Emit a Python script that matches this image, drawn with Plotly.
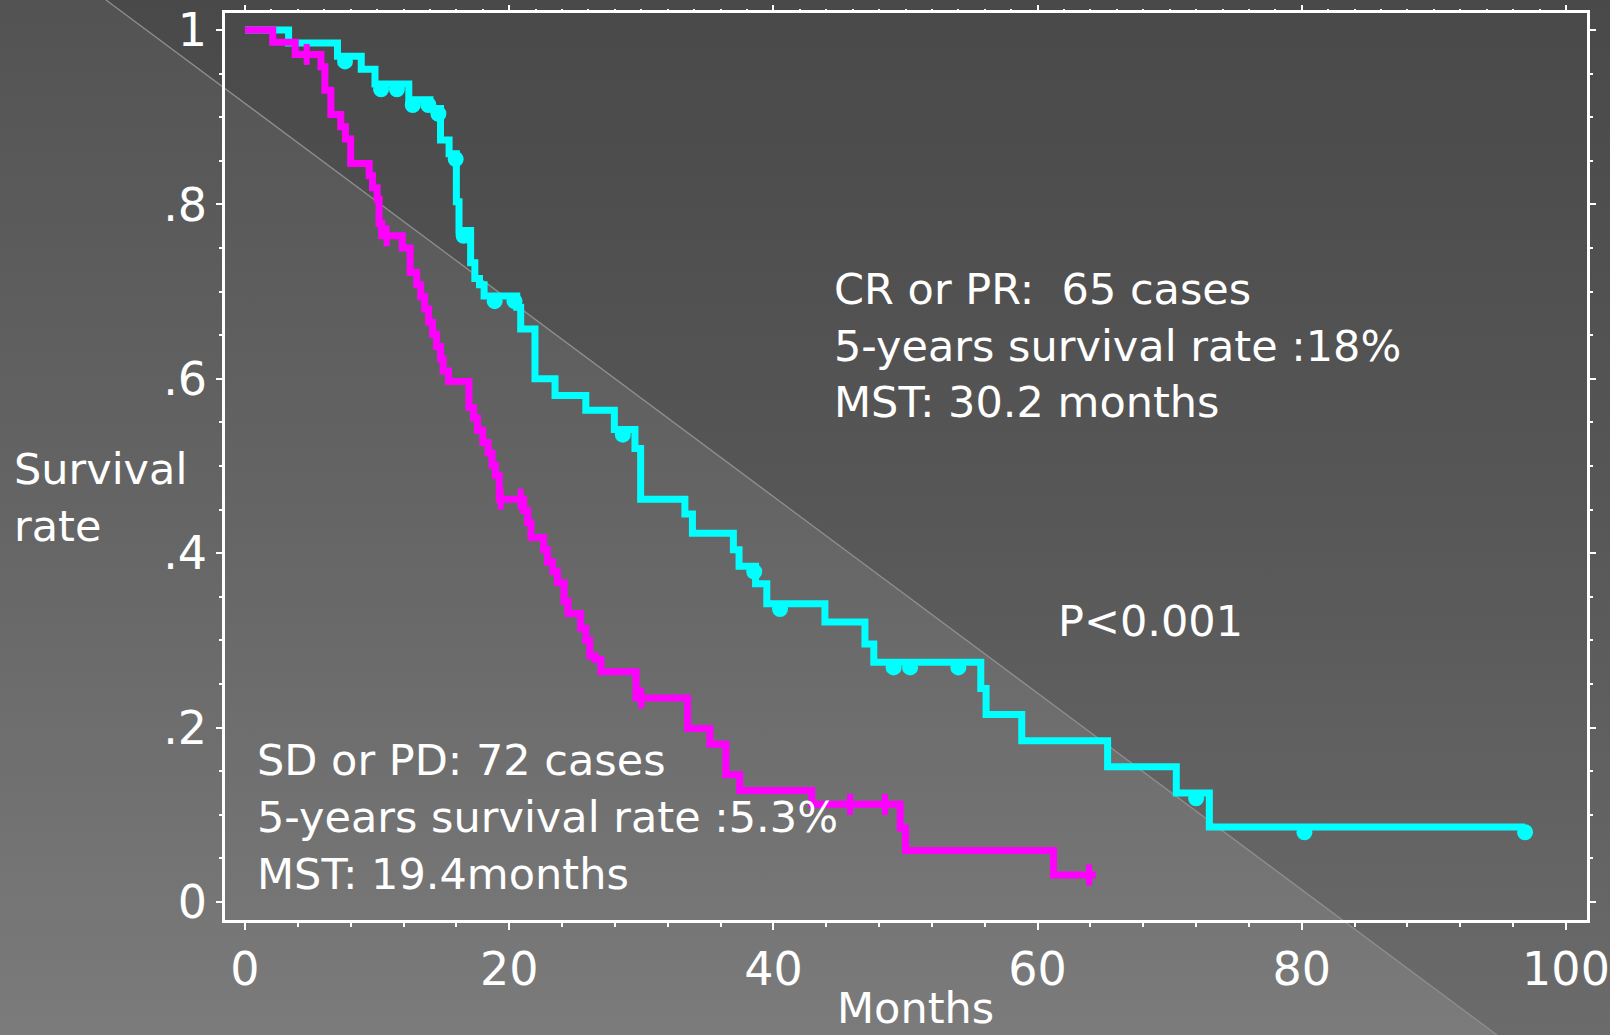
import base64
import numpy as np
import plotly.graph_objects as go

# ---------------- data ----------------
# CR or PR group (cyan): step times (months) and survival after each step
cr_time = [0, 3.3, 7.0, 8.8, 9.84, 12.4, 14.0, 14.8, 15.45, 16.0,
           16.2, 17.08, 17.4, 17.75, 18.1, 20.57, 20.87, 21.95, 23.47, 25.8,
           27.96, 29.52, 29.95, 33.3, 33.87, 36.97, 37.4, 38.65, 39.5, 43.9,
           46.93, 47.6, 55.7, 56.1, 58.8, 65.3, 70.5, 73.0, 96.9]
cr_surv = [1.0, 0.985, 0.970, 0.955, 0.938, 0.920, 0.910, 0.874, 0.858, 0.803,
           0.770, 0.733, 0.715, 0.708, 0.695, 0.682, 0.657, 0.600, 0.581, 0.564,
           0.542, 0.520, 0.462, 0.445, 0.423, 0.404, 0.385, 0.365, 0.342, 0.321,
           0.296, 0.275, 0.245, 0.215, 0.185, 0.155, 0.125, 0.086, 0.086]
cr_censored = [7.57, 10.3, 11.5, 12.7, 13.88, 14.64, 15.95, 16.55, 18.9, 20.4,
               28.6, 38.55, 40.5, 49.1, 50.35, 54.0, 72.0, 80.2, 96.9]

# SD or PD group (magenta)
sd_time = [0, 2.1, 3.8, 5.75, 6.05, 6.5, 7.25, 7.6, 8.0, 9.4,
           9.65, 10.0, 10.15, 10.35, 11.9, 12.5, 13.0, 13.3, 13.6, 13.9,
           14.2, 14.5, 14.8, 15.0, 15.4, 16.95, 17.3, 17.6, 18.0, 18.4,
           18.7, 18.95, 19.25, 21.1, 21.4, 21.65, 22.6, 22.9, 23.3, 23.65,
           24.15, 24.45, 25.4, 25.8, 26.1, 26.5, 26.95, 29.6, 33.5, 35.2,
           36.4, 37.45, 42.9, 49.6, 50.0, 61.2, 64.4]
sd_surv = [1.0, 0.986, 0.972, 0.958, 0.931, 0.903, 0.889, 0.875, 0.847, 0.833,
           0.819, 0.806, 0.778, 0.764, 0.750, 0.722, 0.708, 0.694, 0.680, 0.665,
           0.651, 0.637, 0.623, 0.609, 0.597, 0.567, 0.555, 0.541, 0.527, 0.515,
           0.501, 0.489, 0.462, 0.449, 0.435, 0.418, 0.404, 0.390, 0.379, 0.366,
           0.345, 0.331, 0.314, 0.300, 0.282, 0.278, 0.264, 0.234, 0.199, 0.181,
           0.146, 0.128, 0.112, 0.085, 0.059, 0.031, 0.031]
sd_censored = [4.67, 10.72, 19.36, 20.87, 30.0, 45.8, 48.45, 63.9]

x_tick_vals = [0, 20, 40, 60, 80, 100]
x_tick_text = ["0", "20", "40", "60", "80", "100"]
y_tick_vals = [0, 0.2, 0.4, 0.6, 0.8, 1.0]
y_tick_text = ["0", ".2", ".4", ".6", ".8", "1"]

cr_text = ["CR or PR:\u00a0 65 cases", "5-years survival rate :18%", "MST: 30.2 months"]
sd_text = ["SD or PD: 72 cases", "5-years survival rate :5.3%", "MST: 19.4months"]
p_text = "P&lt;0.001"
x_title = "Months"
y_title = ["Survival", "rate"]

# ---------------- layout geometry ----------------
W, H = 1610, 1035
L, R, T, B = 225, 23, 13, 115
PW, PH = W - L - R, H - T - B
X_RANGE = [-1.514, 101.59]
Y_RANGE = [-0.0206, 1.0195]
FONT = "DejaVu Sans"
FS = 43        # annotation text
FS_TICK = 46   # tick labels
CYAN = "#00FFFF"
MAGENTA = "#FF00FF"


def fx(px):
    return (px - L) / PW


def fy(py):
    return (H - B - py) / PH


def level_at(times, surv, t):
    idx = np.searchsorted(np.asarray(times), np.asarray(t), side="right") - 1
    return np.asarray(surv)[idx]


# background: two-tone vertical gradient split by a diagonal line
svg = f"""<svg xmlns="http://www.w3.org/2000/svg" width="{W}" height="{H}" viewBox="0 0 {W} {H}" preserveAspectRatio="none">
<defs>
<linearGradient id="a" x1="0" y1="0" x2="0" y2="1">
<stop offset="0" stop-color="#535353"/><stop offset="0.5" stop-color="#656565"/><stop offset="1" stop-color="#7b7b7b"/>
</linearGradient>
<linearGradient id="b" x1="0" y1="0" x2="0" y2="1">
<stop offset="0" stop-color="#494949"/><stop offset="0.5" stop-color="#575757"/><stop offset="1" stop-color="#6b6b6b"/>
</linearGradient>
</defs>
<rect x="0" y="0" width="{W}" height="{H}" fill="url(#a)"/>
<polygon points="106,0 {W},0 {W},{H} 1497,{H}" fill="url(#b)"/>
<line x1="106" y1="0" x2="1497" y2="{H}" stroke="#8e8e8e" stroke-width="1.3"/>
</svg>"""
bg_src = "data:image/svg+xml;base64," + base64.b64encode(svg.encode()).decode()

fig = go.Figure()

fig.add_trace(go.Scatter(x=cr_time, y=cr_surv, mode="lines",
                         line=dict(color=CYAN, width=7, shape="hv"),
                         hoverinfo="skip", showlegend=False))
cr_cy = level_at(cr_time, cr_surv, cr_censored) - 0.006
fig.add_trace(go.Scatter(x=cr_censored, y=cr_cy, mode="markers",
                         marker=dict(symbol="circle", size=16, color=CYAN, line=dict(width=0)),
                         hoverinfo="skip", showlegend=False))

fig.add_trace(go.Scatter(x=sd_time, y=sd_surv, mode="lines",
                         line=dict(color=MAGENTA, width=7, shape="hv"),
                         hoverinfo="skip", showlegend=False))
sd_cy = level_at(sd_time, sd_surv, sd_censored)
fig.add_trace(go.Scatter(x=sd_censored, y=sd_cy, mode="markers",
                         marker=dict(symbol="line-ns", size=15, color=MAGENTA,
                                     line=dict(width=6, color=MAGENTA)),
                         hoverinfo="skip", showlegend=False))

# invisible trace so the top (mirror) axis is drawn
fig.add_trace(go.Scatter(x=[None], y=[None], xaxis="x2", yaxis="y",
                         mode="lines", hoverinfo="skip", showlegend=False))

tickfont = dict(family=FONT, size=FS_TICK, color="white")

fig.update_layout(
    width=W, height=H,
    margin=dict(l=L, r=R, t=T, b=B, pad=0, autoexpand=False),
    paper_bgcolor="#5e5e5e",
    plot_bgcolor="rgba(0,0,0,0)",
    showlegend=False,
    images=[dict(source=bg_src, xref="paper", yref="paper",
                 x=fx(0), y=fy(0), sizex=W / PW, sizey=H / PH,
                 xanchor="left", yanchor="top", sizing="stretch", layer="below")],
    xaxis=dict(range=X_RANGE, tickmode="array", tickvals=x_tick_vals, ticktext=x_tick_text,
               ticks="outside", ticklen=7, tickwidth=2, tickcolor="white",
               minor=dict(tickmode="linear", tick0=0, dtick=4, ticks="outside",
                          ticklen=4, tickwidth=2, tickcolor="white"),
               showline=True, linecolor="white", linewidth=2.5, mirror=True,
               showgrid=False, zeroline=False, tickfont=tickfont,
               ticklabelstandoff=0, automargin=False, ticklabeloverflow="allow"),
    xaxis2=dict(range=X_RANGE, overlaying="x", side="top", anchor="y",
                tickmode="array", tickvals=x_tick_vals, showticklabels=False,
                ticks="outside", ticklen=7, tickwidth=2, tickcolor="white",
                minor=dict(tickmode="linear", tick0=0, dtick=2, ticks="outside",
                           ticklen=3, tickwidth=2, tickcolor="white"),
                showline=False, showgrid=False, zeroline=False, automargin=False),
    yaxis=dict(range=Y_RANGE, tickmode="array", tickvals=y_tick_vals, ticktext=y_tick_text,
               ticks="outside", ticklen=6, tickwidth=2, tickcolor="white",
               minor=dict(tickmode="linear", tick0=0, dtick=0.05, ticks="outside",
                          ticklen=3, tickwidth=2, tickcolor="white"),
               showline=True, linecolor="white", linewidth=2.5, mirror="ticks",
               showgrid=False, zeroline=False, tickfont=tickfont,
               ticklabelstandoff=0, automargin=False, ticklabeloverflow="allow"),
)

ann_font = dict(family=FONT, size=FS, color="white")
annotations = []
cr_y = [289, 346, 402]
for txt, py in zip(cr_text, cr_y):
    annotations.append(dict(text=txt, x=fx(832), y=fy(py), xref="paper", yref="paper",
                            xanchor="left", yanchor="middle", showarrow=False, font=ann_font))
sd_y = [760, 817, 874]
for txt, py in zip(sd_text, sd_y):
    annotations.append(dict(text=txt, x=fx(255), y=fy(py), xref="paper", yref="paper",
                            xanchor="left", yanchor="middle", showarrow=False, font=ann_font))
annotations.append(dict(text=p_text, x=fx(1056), y=fy(621), xref="paper", yref="paper",
                        xanchor="left", yanchor="middle", showarrow=False, font=ann_font))
annotations.append(dict(text=x_title, x=fx(915), y=fy(1035), xref="paper", yref="paper",
                        xanchor="center", yanchor="bottom", showarrow=False, font=ann_font))
for txt, py in zip(y_title, [469, 526]):
    annotations.append(dict(text=txt, x=fx(12), y=fy(py), xref="paper", yref="paper",
                            xanchor="left", yanchor="middle", showarrow=False, font=ann_font))
fig.update_layout(annotations=annotations)

fig.write_html("out.html",
               config={"displayModeBar": False},
               post_script="document.body.style.margin='0';document.body.style.padding='0';"
                           "document.documentElement.style.overflow='hidden';")
